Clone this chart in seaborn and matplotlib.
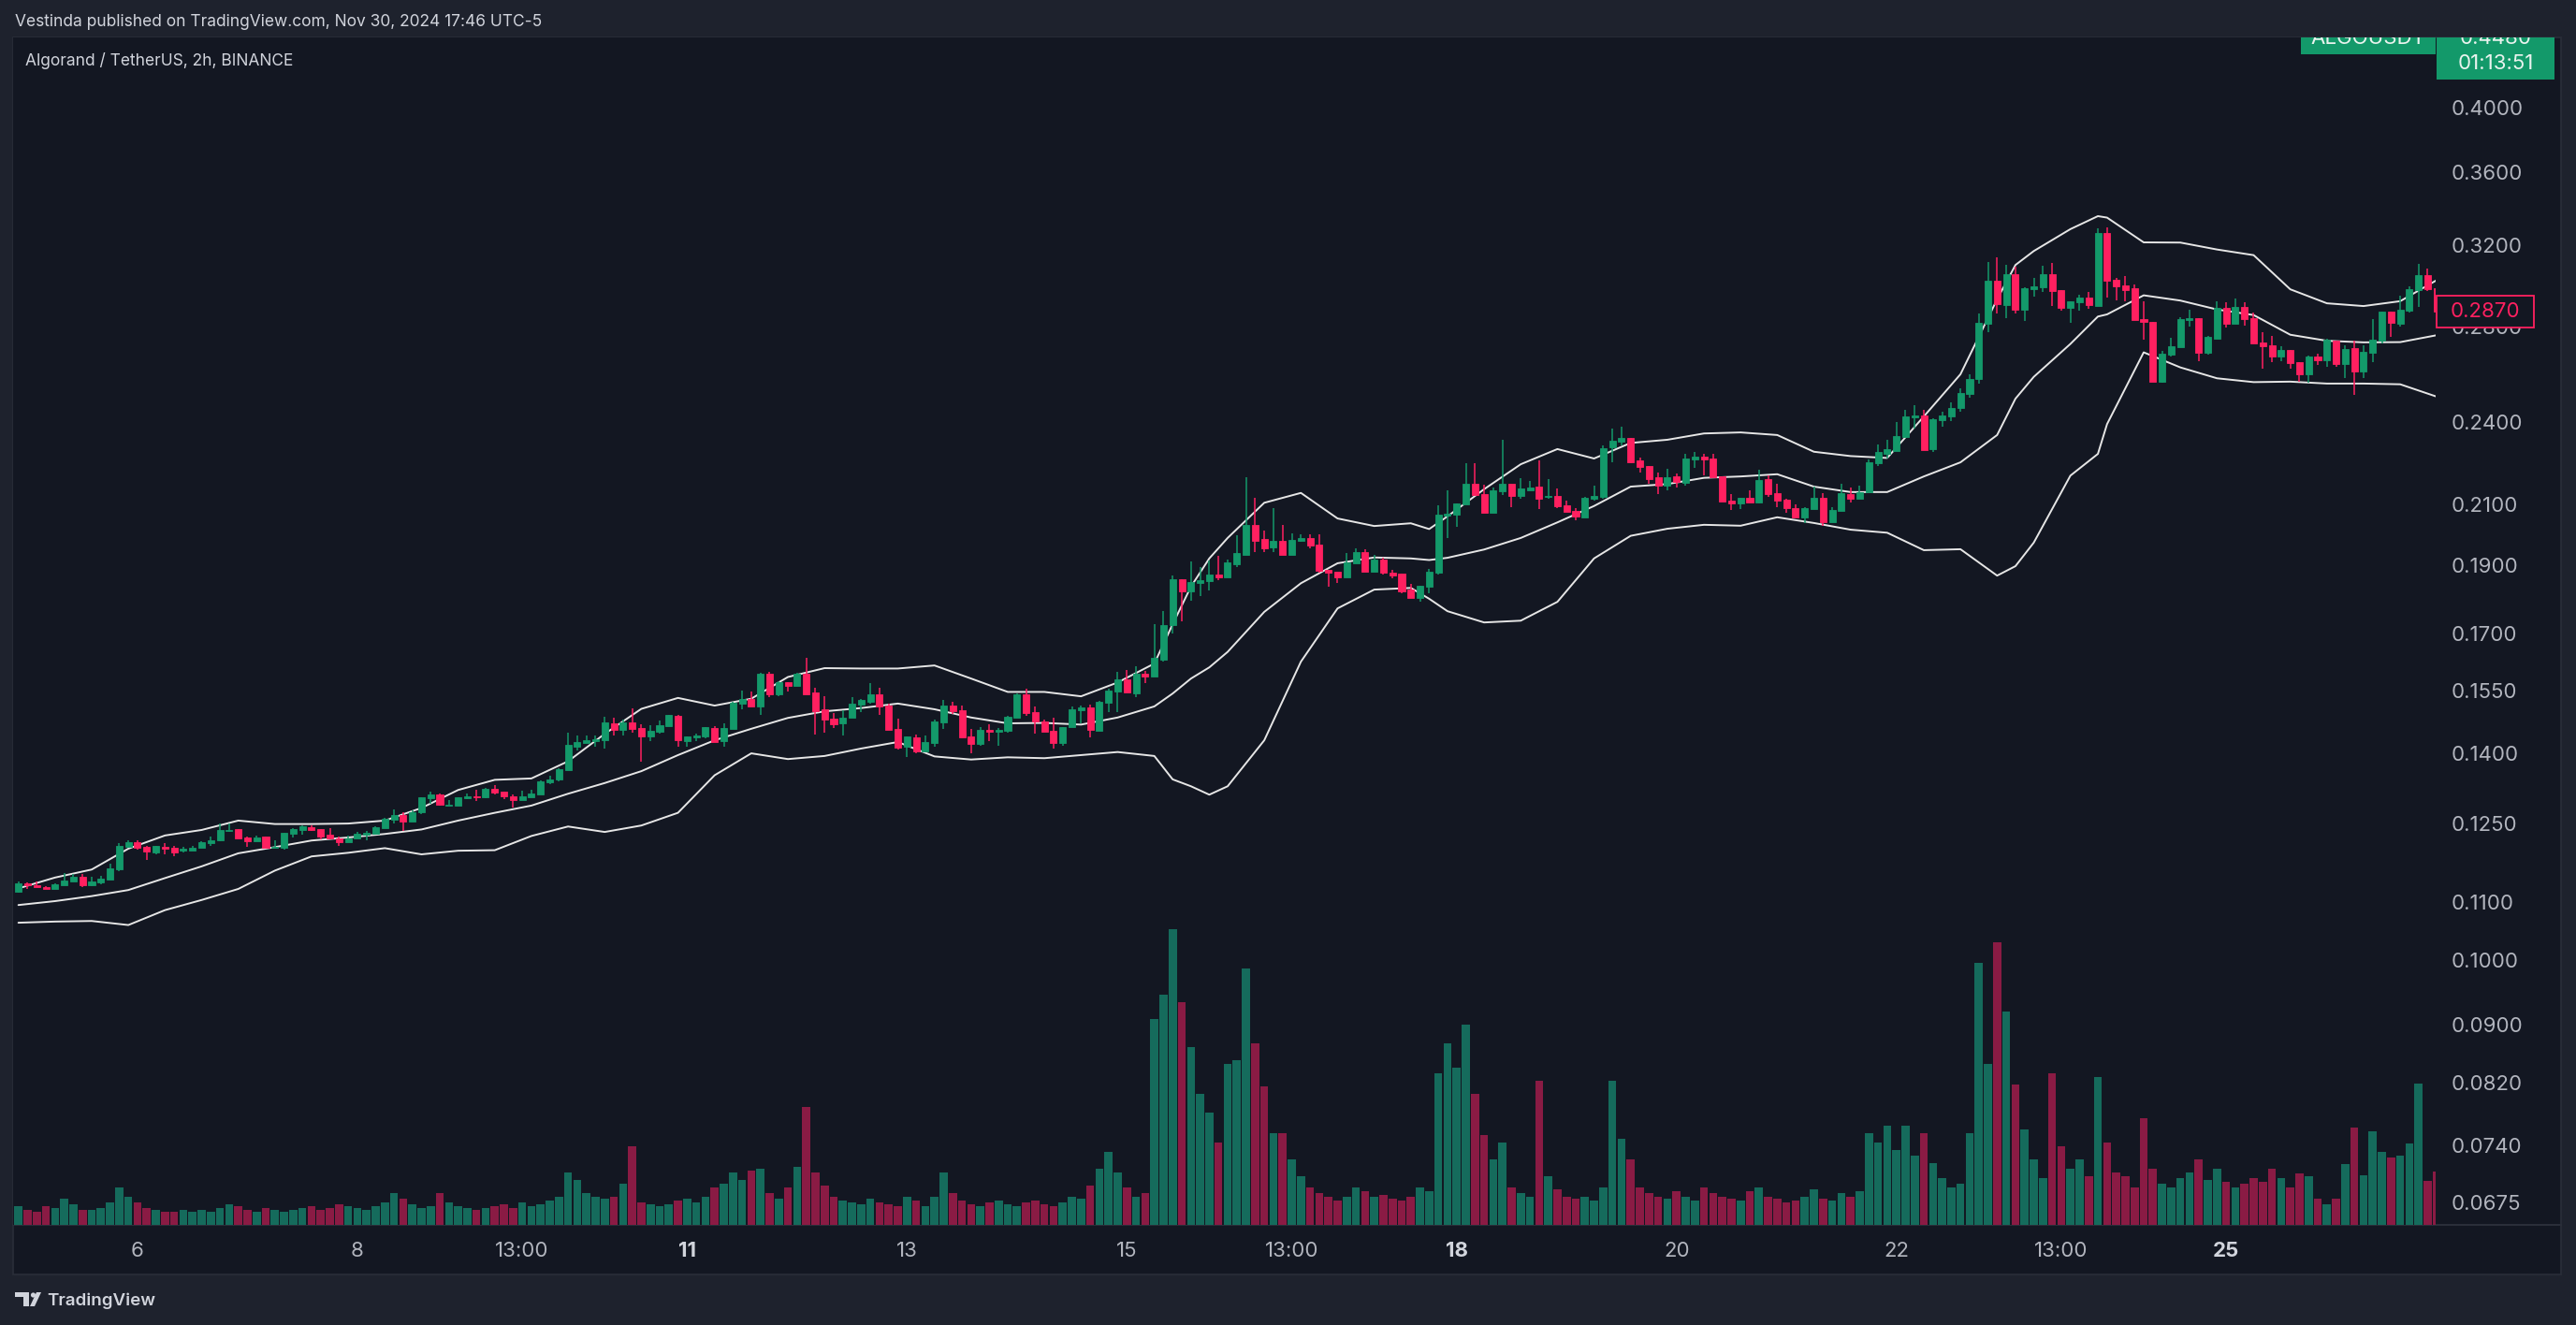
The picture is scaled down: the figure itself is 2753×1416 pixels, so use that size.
import numpy as np
import pandas as pd
import matplotlib
matplotlib.use("Agg")
import matplotlib.pyplot as plt
import seaborn as sns
from matplotlib.lines import Line2D
from matplotlib.patches import Rectangle, Polygon, Circle
from matplotlib.ticker import FixedLocator, NullLocator, NullFormatter
from matplotlib.transforms import IdentityTransform, Bbox

# ALGO/USDT 2h candles
START = "2024-11-04 23:00"

OPEN = [
    .1118, .1134, .1130, .1127, .1123, .1130, .1136, .1145, .1130, .1135,
    .1140, .1160, .1202, .1212, .1202, .1192, .1202, .1200, .1196, .1195,
    .1201, .1210, .1216, .1234, .1237, .1221, .1214, .1223, .1201, .1201,
    .1228, .1236, .1241, .1237, .1226, .1220, .1212, .1220, .1227, .1228,
    .1240, .1257, .1266, .1253, .1273, .1302, .1309, .1286, .1286, .1301,
    .1305, .1303, .1321, .1315, .1305, .1298, .1303, .1310, .1336, .1342,
    .1363, .1415, .1424, .1429, .1431, .1470, .1454, .1472, .1459, .1439,
    .1450, .1463, .1488, .1428, .1437, .1439, .1459, .1428, .1456, .1518,
    .1529, .1511, .1593, .1541, .1572, .1562, .1593, .1546, .1504, .1482,
    .1470, .1484, .1515, .1522, .1541, .1513, .1456, .1415, .1437, .1405,
    .1424, .1473, .1513, .1502, .1439, .1422, .1454, .1450, .1453, .1484,
    .1541, .1497, .1474, .1452, .1424, .1460, .1502, .1509, .1453, .1520,
    .1548, .1579, .1544, .1593, .1586, .1630, .1724, .1858, .1822, .1847,
    .1853, .1872, .1864, .1904, .1933, .2029, .1984, .1957, .1978, .1933,
    .1978, .1987, .1966, .1887, .1881, .1864, .1907, .1942, .1881, .1919,
    .1878, .1875, .1827, .1802, .1836, .1878, .2061, .2064, .2099, .2170,
    .2134, .2070, .2144, .2170, .2128, .2147, .2160, .2124, .2128, .2095,
    .2077, .2054, .2118, .2124, .2304, .2324, .2338, .2254, .2234, .2193,
    .2164, .2197, .2173, .2258, .2268, .2261, .2197, .2111, .2102, .2121,
    .2105, .2186, .2137, .2115, .2086, .2054, .2083, .2121, .2038, .2077,
    .2134, .2118, .2141, .2244, .2278, .2289, .2342, .2418, .2425, .2296,
    .2406, .2421, .2455, .2511, .2573, .2815, .3019, .2902, .3051, .2880,
    .2978, .2987, .3051, .2973, .2889, .2915, .2938, .2898, .3263, .3024,
    .2996, .2983, .2836, .2825, .2562, .2677, .2710, .2832, .2841, .2685,
    .2747, .2889, .2815, .2893, .2841, .2731, .2718, .2669, .2698, .2645,
    .2593, .2669, .2653, .2739, .2637, .2706, .2605, .2685, .2739, .2871,
    .2815, .2876, .2973, .3047, .2983,
]
HIGH = [
    .1136, .1135, .1137, .1128, .1133, .1153, .1151, .1151, .1145, .1147,
    .1170, .1210, .1215, .1216, .1205, .1204, .1210, .1204, .1202, .1204,
    .1213, .1223, .1250, .1249, .1238, .1223, .1224, .1223, .1216, .1230,
    .1239, .1246, .1246, .1237, .1239, .1223, .1224, .1232, .1234, .1243,
    .1260, .1278, .1273, .1276, .1303, .1315, .1312, .1297, .1303, .1311,
    .1319, .1323, .1329, .1315, .1309, .1317, .1319, .1340, .1349, .1366,
    .1448, .1441, .1441, .1441, .1486, .1483, .1480, .1506, .1468, .1465,
    .1477, .1490, .1490, .1440, .1445, .1461, .1463, .1470, .1522, .1550,
    .1548, .1596, .1598, .1574, .1572, .1596, .1635, .1557, .1536, .1495,
    .1502, .1533, .1529, .1569, .1557, .1518, .1481, .1439, .1443, .1441,
    .1479, .1527, .1522, .1513, .1456, .1461, .1468, .1459, .1488, .1543,
    .1555, .1511, .1480, .1484, .1461, .1511, .1513, .1515, .1525, .1555,
    .1598, .1603, .1613, .1601, .1728, .1764, .1870, .1858, .1913, .1895,
    .1915, .1930, .1919, .1996, .2193, .2121, .2010, .2086, .2029, .2002,
    .1999, .1999, .1999, .1887, .1881, .1939, .1954, .1951, .1933, .1924,
    .1887, .1875, .1844, .1838, .1889, .2095, .2147, .2102, .2244, .2244,
    .2167, .2157, .2331, .2170, .2190, .2180, .2254, .2186, .2154, .2111,
    .2086, .2124, .2164, .2310, .2373, .2381, .2338, .2264, .2234, .2210,
    .2224, .2207, .2278, .2285, .2278, .2278, .2197, .2134, .2121, .2147,
    .2220, .2200, .2170, .2118, .2099, .2089, .2160, .2137, .2089, .2170,
    .2157, .2164, .2258, .2313, .2331, .2399, .2447, .2466, .2447, .2414,
    .2440, .2477, .2534, .2593, .2863, .3112, .3136, .3098, .3087, .2988,
    .3033, .3094, .3108, .2973, .2920, .2951, .2964, .3288, .3293, .3033,
    .3042, .3001, .2920, .2825, .2693, .2751, .2845, .2880, .2841, .2760,
    .2920, .2915, .2933, .2915, .2867, .2777, .2760, .2714, .2698, .2645,
    .2673, .2681, .2747, .2739, .2718, .2739, .2718, .2836, .2871, .2871,
    .2946, .2992, .3103, .3079, .2983,
]
LOW = [
    .1116, .1123, .1126, .1123, .1123, .1130, .1136, .1127, .1128, .1132,
    .1140, .1156, .1200, .1197, .1177, .1188, .1188, .1185, .1192, .1195,
    .1201, .1205, .1214, .1232, .1219, .1202, .1214, .1201, .1201, .1197,
    .1221, .1226, .1235, .1218, .1217, .1205, .1212, .1219, .1216, .1228,
    .1240, .1249, .1235, .1253, .1269, .1289, .1286, .1286, .1286, .1299,
    .1296, .1302, .1309, .1299, .1282, .1298, .1303, .1310, .1331, .1338,
    .1363, .1407, .1424, .1415, .1411, .1442, .1442, .1448, .1381, .1428,
    .1446, .1463, .1415, .1415, .1428, .1434, .1426, .1415, .1456, .1504,
    .1511, .1490, .1534, .1536, .1548, .1562, .1541, .1443, .1448, .1459,
    .1442, .1484, .1498, .1518, .1491, .1455, .1409, .1392, .1401, .1405,
    .1415, .1457, .1493, .1434, .1401, .1418, .1429, .1418, .1448, .1483,
    .1489, .1446, .1450, .1411, .1418, .1460, .1470, .1437, .1453, .1498,
    .1498, .1546, .1534, .1569, .1586, .1625, .1701, .1736, .1794, .1808,
    .1825, .1855, .1864, .1896, .1933, .1942, .1942, .1942, .1933, .1933,
    .1975, .1954, .1878, .1836, .1847, .1864, .1907, .1881, .1881, .1872,
    .1861, .1816, .1802, .1792, .1816, .1872, .1987, .2022, .2099, .2131,
    .2070, .2070, .2131, .2088, .2118, .2147, .2083, .2118, .2086, .2073,
    .2045, .2054, .2111, .2118, .2247, .2310, .2244, .2210, .2170, .2134,
    .2147, .2157, .2164, .2227, .2200, .2193, .2108, .2080, .2083, .2105,
    .2102, .2124, .2089, .2070, .2054, .2035, .2083, .2026, .2038, .2077,
    .2105, .2118, .2141, .2234, .2261, .2289, .2342, .2373, .2292, .2285,
    .2381, .2403, .2440, .2496, .2554, .2777, .2863, .2841, .2863, .2828,
    .2942, .2964, .2898, .2876, .2819, .2876, .2884, .2898, .2938, .2924,
    .2920, .2832, .2743, .2562, .2558, .2669, .2710, .2802, .2649, .2677,
    .2747, .2798, .2815, .2806, .2727, .2617, .2645, .2649, .2617, .2562,
    .2558, .2633, .2625, .2625, .2577, .2507, .2577, .2645, .2727, .2756,
    .2802, .2867, .2893, .2969, .2870,
]
CLOSE = [
    .1134, .1130, .1127, .1123, .1131, .1138, .1145, .1130, .1136, .1142,
    .1161, .1204, .1212, .1201, .1194, .1204, .1198, .1192, .1198, .1201,
    .1212, .1216, .1236, .1236, .1220, .1214, .1221, .1201, .1203, .1230,
    .1237, .1243, .1236, .1223, .1220, .1212, .1220, .1228, .1231, .1241,
    .1259, .1266, .1253, .1273, .1303, .1309, .1288, .1288, .1303, .1305,
    .1303, .1321, .1314, .1306, .1298, .1305, .1311, .1338, .1342, .1364,
    .1419, .1426, .1430, .1432, .1472, .1454, .1472, .1456, .1439, .1452,
    .1465, .1490, .1430, .1439, .1441, .1461, .1426, .1459, .1521, .1529,
    .1511, .1593, .1541, .1572, .1562, .1593, .1541, .1500, .1480, .1468,
    .1484, .1518, .1527, .1541, .1511, .1455, .1413, .1439, .1405, .1426,
    .1475, .1513, .1500, .1437, .1422, .1454, .1450, .1454, .1486, .1541,
    .1495, .1475, .1450, .1424, .1461, .1504, .1509, .1455, .1522, .1550,
    .1579, .1546, .1593, .1586, .1635, .1724, .1858, .1822, .1850, .1855,
    .1872, .1864, .1910, .1939, .2029, .1978, .1954, .1978, .1933, .1981,
    .1987, .1963, .1884, .1878, .1864, .1910, .1942, .1881, .1919, .1878,
    .1870, .1822, .1802, .1838, .1881, .2064, .2067, .2102, .2170, .2131,
    .2070, .2147, .2170, .2128, .2154, .2157, .2118, .2128, .2092, .2073,
    .2057, .2121, .2128, .2299, .2327, .2338, .2247, .2230, .2186, .2164,
    .2193, .2177, .2261, .2268, .2258, .2193, .2108, .2102, .2121, .2105,
    .2183, .2134, .2111, .2086, .2054, .2086, .2121, .2038, .2080, .2137,
    .2118, .2141, .2247, .2285, .2296, .2345, .2421, .2425, .2292, .2410,
    .2425, .2455, .2515, .2573, .2819, .3019, .2906, .3051, .2880, .2983,
    .2992, .3051, .2969, .2889, .2920, .2938, .2902, .3263, .3019, .2992,
    .2973, .2832, .2825, .2562, .2681, .2714, .2836, .2841, .2685, .2756,
    .2889, .2815, .2893, .2836, .2727, .2714, .2669, .2698, .2641, .2593,
    .2669, .2653, .2743, .2637, .2702, .2605, .2689, .2743, .2871, .2819,
    .2880, .2978, .3047, .2978, .2870,
]
# volume in millions of ALGO
VOLUME = [
    2.0, 1.6, 1.4, 2.0, 1.8, 2.8, 2.2, 1.6, 1.6, 1.8,
    2.4, 4.0, 3.0, 2.4, 1.8, 1.6, 1.4, 1.4, 1.6, 1.4,
    1.6, 1.4, 1.8, 2.2, 2.0, 1.6, 1.4, 1.8, 1.6, 1.4,
    1.6, 1.8, 2.0, 1.6, 1.8, 2.2, 2.0, 1.8, 1.6, 2.0,
    2.4, 3.4, 2.8, 2.2, 1.8, 2.0, 3.4, 2.4, 2.0, 1.8,
    1.6, 1.8, 2.0, 2.2, 1.8, 2.4, 2.0, 2.2, 2.6, 3.0,
    5.6, 4.8, 3.4, 3.0, 2.8, 3.0, 4.4, 8.4, 2.4, 2.2,
    2.0, 2.2, 2.6, 2.8, 2.4, 3.0, 4.0, 4.4, 5.6, 4.8,
    5.8, 6.0, 3.4, 2.8, 4.0, 6.2, 12.6, 5.6, 4.2, 3.0,
    2.6, 2.4, 2.2, 2.8, 2.4, 2.2, 2.0, 3.0, 2.6, 2.0,
    3.0, 5.6, 3.4, 2.6, 2.2, 2.0, 2.4, 2.6, 2.2, 2.0,
    2.4, 2.6, 2.2, 2.0, 2.4, 3.0, 2.8, 4.2, 6.0, 7.8,
    5.6, 4.0, 3.0, 3.4, 22.0, 24.6, 31.6, 23.8, 19.0, 14.0,
    12.0, 8.8, 17.2, 17.6, 27.4, 19.4, 14.8, 9.8, 9.8, 7.0,
    5.2, 4.0, 3.4, 3.0, 2.6, 3.0, 4.0, 3.6, 3.0, 3.2,
    2.8, 2.6, 3.0, 4.0, 3.6, 16.2, 19.4, 16.8, 21.4, 14.0,
    9.6, 7.0, 8.8, 4.0, 3.4, 3.0, 15.4, 5.2, 3.8, 3.0,
    2.8, 3.0, 2.6, 4.0, 15.4, 9.2, 7.0, 4.0, 3.4, 3.0,
    2.8, 3.6, 3.0, 2.6, 4.0, 3.4, 3.0, 2.8, 2.6, 3.6,
    4.0, 3.0, 2.8, 2.4, 2.6, 3.0, 3.8, 2.8, 2.6, 3.4,
    3.0, 3.6, 9.8, 8.8, 10.6, 8.0, 10.6, 7.4, 9.8, 6.6,
    5.0, 4.0, 4.4, 9.8, 28.0, 17.2, 30.2, 22.8, 15.0, 10.2,
    7.0, 5.0, 16.2, 8.4, 6.0, 7.0, 5.2, 15.8, 8.8, 5.6,
    5.2, 4.0, 11.4, 6.0, 4.4, 4.0, 5.0, 5.6, 7.0, 4.8,
    6.0, 4.6, 4.0, 4.4, 5.0, 4.6, 6.0, 5.0, 4.0, 5.5,
    5.2, 2.8, 2.2, 2.8, 6.5, 10.4, 5.3, 10.0, 7.8, 7.2,
    7.4, 8.7, 15.1, 4.7, 5.7,
]

# Bollinger Bands (20, 2) sampled along the chart
BB_BAR = [0, 4, 8, 12, 16, 20, 24, 28, 32, 36, 40, 44, 48, 52, 56, 60, 64, 68,
          72, 76, 80, 84, 88, 92, 96, 100, 104, 108, 112, 116, 120, 124, 126,
          128, 130, 132, 136, 140, 144, 148, 152, 154, 156, 160, 164, 168, 172,
          176, 180, 184, 188, 192, 196, 200, 204, 208, 212, 216, 218, 220, 224,
          227, 228, 232, 236, 240, 244, 248, 252, 256, 260, 264]
BB_UPPER = [.1124, .1144, .1159, .1199, .1225, .1236, .1255, .1248, .1248, .1249,
            .1255, .1281, .1319, .1341, .1344, .1382, .1445, .1505, .1532, .1513,
            .1530, .1585, .1608, .1607, .1607, .1615, .1581, .1547, .1547, .1536,
            .1571, .1620, .1727, .1836, .1922, .1987, .2104, .2138, .2051, .2026,
            .2035, .2016, .2058, .2151, .2240, .2296, .2261, .2319, .2331, .2355,
            .2359, .2349, .2286, .2270, .2263, .2421, .2593, .2929, .3097, .3168,
            .3283, .3353, .3345, .3213, .3212, .3176, .3147, .2977, .2910, .2897,
            .2920, .3022]
BB_BASIS = [.1094, .1101, .1110, .1121, .1143, .1165, .1190, .1202, .1215, .1221,
            .1228, .1237, .1255, .1271, .1286, .1311, .1334, .1360, .1396, .1430,
            .1457, .1483, .1499, .1507, .1518, .1504, .1484, .1470, .1471, .1467,
            .1484, .1511, .1543, .1581, .1610, .1651, .1762, .1846, .1907, .1925,
            .1922, .1917, .1924, .1950, .1987, .2038, .2093, .2160, .2169, .2191,
            .2196, .2204, .2160, .2141, .2141, .2196, .2247, .2349, .2492, .2582,
            .2724, .2848, .2858, .2948, .2923, .2881, .2855, .2765, .2738, .2731,
            .2732, .2763]
BB_LOWER = [.1063, .1065, .1066, .1059, .1085, .1103, .1123, .1157, .1184, .1191,
            .1200, .1188, .1195, .1196, .1224, .1243, .1232, .1245, .1271, .1351,
            .1400, .1387, .1394, .1411, .1426, .1393, .1386, .1391, .1389, .1396,
            .1403, .1394, .1342, .1327, .1309, .1327, .1430, .1625, .1772, .1827,
            .1832, .1800, .1764, .1732, .1737, .1791, .1922, .1994, .2017, .2030,
            .2027, .2055, .2036, .2014, .2004, .1948, .1951, .1869, .1898, .1972,
            .2199, .2278, .2391, .2687, .2622, .2576, .2560, .2562, .2554, .2554,
            .2551, .2500]

Y_TICKS = [0.4, 0.36, 0.32, 0.28, 0.24, 0.21, 0.19, 0.17, 0.155, 0.14, 0.125,
           0.11, 0.10, 0.09, 0.082, 0.074, 0.0675]
X_TICK_TIMES = ["2024-11-06 01:00", "2024-11-08 01:00", "2024-11-09 13:00",
                "2024-11-11 01:00", "2024-11-13 01:00", "2024-11-15 01:00",
                "2024-11-16 13:00", "2024-11-18 01:00", "2024-11-20 01:00",
                "2024-11-22 01:00", "2024-11-23 13:00", "2024-11-25 01:00"]

LAST_PRICE = 0.4480
COUNTDOWN = "01:13:51"
SYMBOL = "ALGOUSDT"
TITLE = "Algorand / TetherUS, 2h, BINANCE"
HEADER = "Vestinda published on TradingView.com, Nov 30, 2024 17:46 UTC-5"

# colours (TradingView dark theme)
OUTER = "#1E222D"
PANE = "#131722"
BORDER = "#2A2E39"
TEXT = "#B2B5BE"
BRIGHT = "#D1D4DC"
UP = "#13996A"
DOWN = "#FF2060"
VOL_UP = "#156B5C"
VOL_DOWN = "#8A1B44"
BAND = "#E6E6E6"

W, H = 2753, 1416


def box(x0, y0, x1, y1):
    # pixel box measured from the top-left corner -> figure rect
    return [x0 / W, 1 - y1 / H, (x1 - x0) / W, (y1 - y0) / H]


sns.set_theme(style="dark", rc={"axes.facecolor": PANE, "figure.facecolor": OUTER,
                                "axes.edgecolor": PANE, "axes.grid": False})
plt.rcParams["font.family"] = ["Inter", "DejaVu Sans"]

fig = plt.figure(figsize=(W / 100, H / 100), dpi=100)
fig.patch.set_facecolor(OUTER)

pane = Rectangle((14 / W, 1 - 1362 / H), (2737 - 14) / W, (1362 - 40) / H,
                 transform=fig.transFigure, facecolor=PANE, edgecolor=BORDER,
                 linewidth=1.2, zorder=-1)
fig.add_artist(pane)
fig.add_artist(Line2D([14 / W, 2737 / W], [1 - 1309 / H] * 2, transform=fig.transFigure,
                      color=BORDER, linewidth=1.5, zorder=-0.5))

ax = fig.add_axes(box(14, 40, 2603, 1309))
vax = fig.add_axes(box(14, 40, 2603, 1309), sharex=ax)
vax.patch.set_visible(False)

times = pd.date_range(START, periods=len(CLOSE), freq="2h")
bars = np.arange(len(CLOSE))
o, hi, lo, c = (np.array(a) for a in (OPEN, HIGH, LOW, CLOSE))
rising = c >= o
colors = np.where(rising, UP, DOWN)

# volume pane
vol = pd.DataFrame({"bar": bars, "volume": VOLUME,
                    "side": np.where(rising, "up", "down")})
sns.barplot(data=vol, x="bar", y="volume", hue="side",
            palette={"up": VOL_UP, "down": VOL_DOWN}, native_scale=True,
            dodge=False, width=0.88, saturation=1, errorbar=None, legend=False,
            linewidth=0, ax=vax)
vax.set_ylim(0, 126.9)
vax.axis("off")

# bollinger bands
for band in (BB_UPPER, BB_BASIS, BB_LOWER):
    sns.lineplot(x=BB_BAR, y=band, ax=ax, color=BAND, linewidth=1.4, zorder=2)

# candles
ax.vlines(bars, lo, hi, colors=colors, linewidth=1.1, zorder=3)
ax.bar(bars, np.abs(c - o), bottom=np.minimum(o, c), width=0.72, color=colors,
       edgecolor=colors, linewidth=0.6, zorder=4)

ax.set_yscale("log")
ax.set_ylim(0.06504, 0.44835)
ax.set_xlim(-0.58, 263.87)
ax.grid(False)
for s in ax.spines.values():
    s.set_visible(False)

ax.yaxis.tick_right()
ax.yaxis.set_major_locator(FixedLocator(Y_TICKS))
ax.yaxis.set_minor_locator(NullLocator())
ax.yaxis.set_minor_formatter(NullFormatter())
ax.set_yticklabels([f"{v:.4f}" for v in Y_TICKS])
ax.tick_params(axis="y", which="both", length=0, pad=12, labelsize=16, labelcolor=TEXT)

tick_ts = [pd.Timestamp(s) for s in X_TICK_TIMES]
tick_pos = [times.get_loc(ts) for ts in tick_ts]
tick_lab = [str(ts.day) if ts.hour == 1 else ts.strftime("%H:%M") for ts in tick_ts]
ax.set_xticks(tick_pos, tick_lab)
ax.tick_params(axis="x", length=0, pad=13, labelsize=16, labelcolor=TEXT)
for lab, ts in zip(ax.get_xticklabels(), tick_ts):
    if ts.weekday() == 0 and ts.hour == 1:
        lab.set_fontweight("bold")
        lab.set_color(BRIGHT)
ax.set_xlabel("")
ax.set_ylabel("")

# price tags on the right scale
ident = IdentityTransform()
clip = Bbox.from_extents(14, H - 1362, 2737, H - 40)

y_last = ax.transData.transform((0, CLOSE[-1]))[1]
fig.add_artist(Rectangle((2604, y_last - 17), 104, 34, transform=ident, facecolor=PANE,
                         edgecolor=DOWN, linewidth=1.3, zorder=5))
fig.text(2656 / W, y_last / H, f"{CLOSE[-1]:.4f}", color=DOWN, fontsize=16,
         ha="center", va="center", zorder=6)

y_top = ax.transData.transform((0, LAST_PRICE))[1]
tags = [
    Rectangle((2459, y_top - 17), 144, 34, transform=ident, facecolor=UP, linewidth=0, zorder=5),
    Rectangle((2604, y_top - 44), 126, 61, transform=ident, facecolor=UP, linewidth=0, zorder=5),
]
for t in tags:
    t.set_clip_box(clip)
    fig.add_artist(t)
for x, dy, s in [(2531, 0, SYMBOL), (2667, 0, f"{LAST_PRICE:.4f}"), (2667, -27, COUNTDOWN)]:
    txt = fig.text(x / W, (y_top + dy) / H, s, color="#E9F3EE", fontsize=16,
                   ha="center", va="center", zorder=6)
    txt.set_clip_box(clip)
    txt.set_clip_on(True)

# header and legend text
fig.text(16 / W, 1 - 24 / H, HEADER, color=BRIGHT, fontsize=12.5, va="center")
fig.text(27 / W, 1 - 65 / H, TITLE, color=BRIGHT, fontsize=12.5, va="center")

# TradingView mark, bottom left
def px(x, y):
    return (x, H - y)

fig.add_artist(Polygon([px(16, 1381), px(31, 1381), px(31, 1396), px(25, 1396),
                        px(25, 1386), px(16, 1386)], closed=True, transform=ident,
                       facecolor=BRIGHT, linewidth=0))
fig.add_artist(Circle(px(35.5, 1384), 2.6, transform=ident, facecolor=BRIGHT, linewidth=0))
fig.add_artist(Polygon([px(32, 1396), px(37, 1396), px(44, 1381), px(39, 1381)],
                       closed=True, transform=ident, facecolor=BRIGHT, linewidth=0))
fig.text(50 / W, 1 - 1390 / H, "TradingView", color=BRIGHT, fontsize=13.5,
         fontweight="semibold", va="center")

fig.savefig("out.png", dpi=100, facecolor=OUTER)
